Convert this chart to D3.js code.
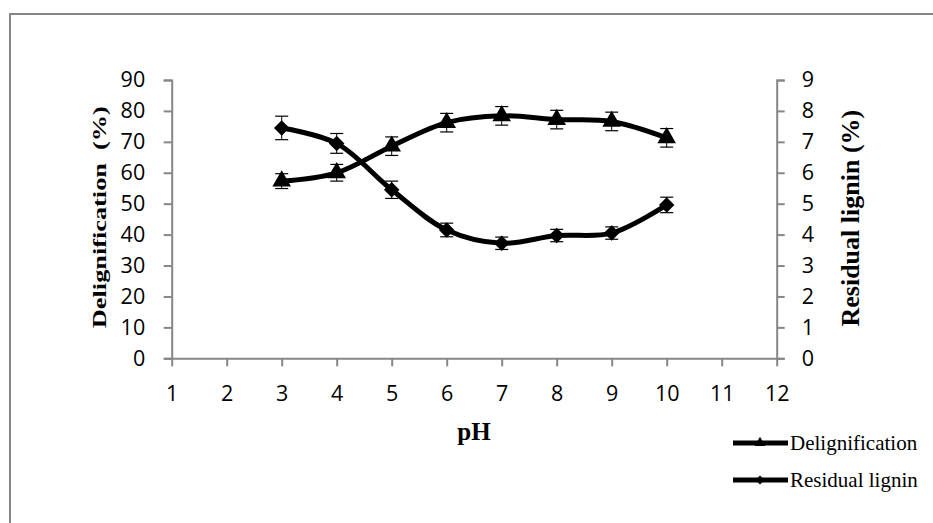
<!DOCTYPE html>
<html>
<head>
<meta charset="utf-8">
<script src="https://cdn.jsdelivr.net/npm/d3@7"></script>
<style>
  html, body { margin: 0; padding: 0; background: #fff; }
  svg { display: block; }
</style>
</head>
<body>
<div id="chart"></div>
<script>
// pH sweep: delignification (left axis) vs residual lignin (right axis)
const phValues = [3, 4, 5, 6, 7, 8, 9, 10];
const delignification = [57.3, 60, 68.6, 76.2, 78.4, 77.2, 76.6, 71.3];
const delignificationErr = [2.4, 2.7, 3, 3, 3, 3, 3, 3];
const residualLignin = [7.45, 6.95, 5.45, 4.15, 3.72, 3.97, 4.05, 4.96];
const residualLigninErr = [0.38, 0.32, 0.28, 0.22, 0.2, 0.2, 0.2, 0.25];

const xTicks = [1, 2, 3, 4, 5, 6, 7, 8, 9, 10, 11, 12];
const leftTicks = [0, 10, 20, 30, 40, 50, 60, 70, 80, 90];
const rightTicks = [0, 1, 2, 3, 4, 5, 6, 7, 8, 9];

const W = 933, H = 523;
const AXIS = "#868686";
const TICK_FONT = "'Open Sans', sans-serif";
const TITLE_FONT = "'Liberation Serif', 'Times New Roman', serif";

// plot area
const plot = { left: 171.7, right: 776.7, top: 80, bottom: 358.3 };

// Excel-style square diamond (d3's own diamond is too narrow)
const squareDiamond = {
    draw(ctx, size) {
        const r = Math.sqrt(size / 2);
        ctx.moveTo(0, -r);
        ctx.lineTo(r, 0);
        ctx.lineTo(0, r);
        ctx.lineTo(-r, 0);
        ctx.closePath();
    }
};

const svg = d3.select("#chart").append("svg")
    .attr("width", W)
    .attr("height", H);

// outer chart border (only top and left visible in the crop)
svg.append("path")
    .attr("d", `M10,${H + 5} V14 H${W + 5}`)
    .attr("fill", "none")
    .attr("stroke", AXIS)
    .attr("stroke-width", 2);

const x = d3.scaleLinear().domain([1, 12]).range([plot.left, plot.right]);
const yL = d3.scaleLinear().domain([0, 90]).range([plot.bottom, plot.top]);
const yR = d3.scaleLinear().domain([0, 9]).range([plot.bottom, plot.top]);

function styleAxis(g) {
    g.select(".domain").attr("stroke", AXIS).attr("stroke-width", 2);
    g.selectAll(".tick line").attr("stroke", AXIS).attr("stroke-width", 2);
    g.selectAll(".tick text")
        .attr("fill", "#000")
        .attr("font-family", TICK_FONT)
        .attr("font-size", "21.5px");
}

svg.append("g")
    .attr("transform", `translate(0,${plot.bottom})`)
    .call(d3.axisBottom(x).tickValues(xTicks).tickSize(8).tickSizeOuter(0).tickPadding(19))
    .call(styleAxis);

svg.append("g")
    .attr("transform", `translate(${plot.left},0)`)
    .call(d3.axisLeft(yL).tickValues(leftTicks).tickSize(8).tickSizeOuter(8).tickPadding(18.5))
    .call(styleAxis);

svg.append("g")
    .attr("transform", `translate(${plot.right},0)`)
    .call(d3.axisRight(yR).tickValues(rightTicks).tickSize(8).tickSizeOuter(8).tickPadding(17))
    .call(styleAxis);

// axis titles
svg.append("text")
    .attr("transform", `translate(106,${(plot.top + plot.bottom) / 2 - 2}) rotate(-90)`)
    .attr("text-anchor", "middle")
    .attr("font-family", TITLE_FONT)
    .attr("font-weight", "bold")
    .attr("font-size", "19px")
    .attr("xml:space", "preserve")
    .attr("textLength", 222)
    .attr("lengthAdjust", "spacingAndGlyphs")
    .text("Delignification  (%)");

svg.append("text")
    .attr("transform", `translate(859,${(plot.top + plot.bottom) / 2 - 1}) rotate(-90)`)
    .attr("text-anchor", "middle")
    .attr("font-family", TITLE_FONT)
    .attr("font-weight", "bold")
    .attr("font-size", "26px")
    .text("Residual lignin (%)");

svg.append("text")
    .attr("x", 474)
    .attr("y", 440)
    .attr("text-anchor", "middle")
    .attr("font-family", TITLE_FONT)
    .attr("font-weight", "bold")
    .attr("font-size", "25px")
    .text("pH");

// series
const series = [
    { name: "Delignification", values: delignification, err: delignificationErr, y: yL, marker: d3.symbolTriangle, size: 150 },
    { name: "Residual lignin", values: residualLignin, err: residualLigninErr, y: yR, marker: squareDiamond, size: 120 },
];

const line = (s) => d3.line()
    .x((d, i) => x(phValues[i]))
    .y((d) => s.y(d))
    .curve(d3.curveCatmullRom.alpha(0.5));

for (const s of series) {
    const g = svg.append("g");
    const pts = s.values.map((v, i) => ({ ph: phValues[i], v, e: s.err[i] }));

    // error bars
    const eb = g.append("g");
    eb.selectAll("line.stem")
        .data(pts).enter().append("line")
        .attr("x1", (d) => x(d.ph)).attr("x2", (d) => x(d.ph))
        .attr("y1", (d) => s.y(d.v - d.e)).attr("y2", (d) => s.y(d.v + d.e))
        .attr("stroke", "#000").attr("stroke-width", 1);
    for (const sign of [-1, 1]) {
        eb.selectAll(null)
            .data(pts).enter().append("line")
            .attr("x1", (d) => x(d.ph) - 6.5).attr("x2", (d) => x(d.ph) + 6.5)
            .attr("y1", (d) => s.y(d.v + sign * d.e)).attr("y2", (d) => s.y(d.v + sign * d.e))
            .attr("stroke", "#000").attr("stroke-width", 1.2);
    }

    g.append("path")
        .datum(s.values)
        .attr("d", line(s))
        .attr("fill", "none")
        .attr("stroke", "#000")
        .attr("stroke-width", 5);

    g.selectAll("path.mk")
        .data(pts).enter().append("path")
        .attr("class", "mk")
        .attr("transform", (d) => `translate(${x(d.ph)},${s.y(d.v)})`)
        .attr("d", d3.symbol().type(s.marker).size(s.size))
        .attr("fill", "#000");
}

// legend
const legendRows = [
    { name: "Delignification", marker: d3.symbolTriangle, size: 50, y: 443 },
    { name: "Residual lignin", marker: squareDiamond, size: 40, y: 480 },
];
const lg = svg.append("g");
for (const r of legendRows) {
    lg.append("line")
        .attr("x1", 733).attr("x2", 788)
        .attr("y1", r.y).attr("y2", r.y)
        .attr("stroke", "#000").attr("stroke-width", 5);
    lg.append("path")
        .attr("transform", `translate(760,${r.y})`)
        .attr("d", d3.symbol().type(r.marker).size(r.size))
        .attr("fill", "#000");
    lg.append("text")
        .attr("x", 790)
        .attr("y", r.y + 7)
        .attr("font-family", TITLE_FONT)
        .attr("font-size", "21px")
        .text(r.name);
}
</script>
</body>
</html>
